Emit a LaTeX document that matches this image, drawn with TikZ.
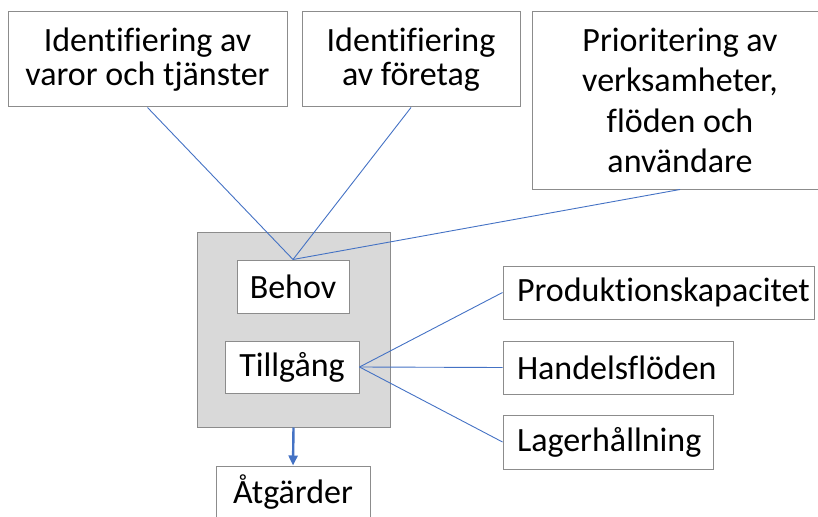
\documentclass[tikz,border=0pt]{standalone}
\usepackage{fontspec}
\setmainfont[Ligatures=NoCommon]{Carlito}
\usetikzlibrary{arrows.meta}
\definecolor{lineblue}{HTML}{4472C4}
\definecolor{boxgray}{HTML}{8C8C8C}
\definecolor{fillgray}{HTML}{D9D9D9}

\begin{document}
\begin{tikzpicture}[x=1pt, y=-1pt,
 box/.style={draw=boxgray, fill=white, line width=1pt, inner sep=0pt, align=center,
  font=\fontsize{34}{34.5}\selectfont},
 leftbox/.style={box, align=left, inner xsep=14pt, text width=#1},
 conn/.style={draw=lineblue, line width=0.9pt}]
 \clip (0,0) rectangle (818,516);
 \node[box, minimum width=279, minimum height=95] (varor) at (147.5,59.5) {Identifiering av\\varor och tjänster};
 \node[box, minimum width=218, minimum height=95] (foretag) at (411,59.5) {Identifiering\\av företag};
 \node[box, minimum width=296, minimum height=177, font=\fontsize{34}{40.5}\selectfont] (prio) at (680,100.5)
  {Prioritering av\\verksamheter,\\flöden och\\användare};
 \node[draw=boxgray, fill=fillgray, line width=1pt, minimum width=193, minimum height=195] (lada) at (293.5,329.5) {};%灰色の枠
 \node[box, minimum width=112, minimum height=53] (behov) at (293,286.5) {Behov};
 \node[box, minimum width=134, minimum height=52] (tillgang) at (292,367) {Tillgång};
 \node[box, minimum width=154, minimum height=53] (atgarder) at (293,492.5) {Åtgärder};
 % 右の列：左寄せ
 \node[leftbox=283pt, minimum height=53] (prod) at (658.5,292.5) {Produktionskapacitet};
 \node[leftbox=202pt, minimum height=53] (handel) at (618,367.5) {Handelsflöden};
 \node[leftbox=182pt, minimum height=54] (lager) at (608,442) {Lagerhållning};
 \draw[conn] (varor.south) -- (behov.north);
 \draw[conn] (foretag.south) -- (behov.north);
 \draw[conn] (prio.south) -- (behov.north);
 \draw[conn] (tillgang.east) -- (prod.west);
 \draw[conn] (tillgang.east) -- (handel.west);
 \draw[conn] (tillgang.east) -- (lager.west);
 \draw[lineblue, line width=2.4pt, -{Triangle[length=10pt, width=9pt]}] (lada.south) -- (atgarder.north);
\end{tikzpicture}
\end{document}
